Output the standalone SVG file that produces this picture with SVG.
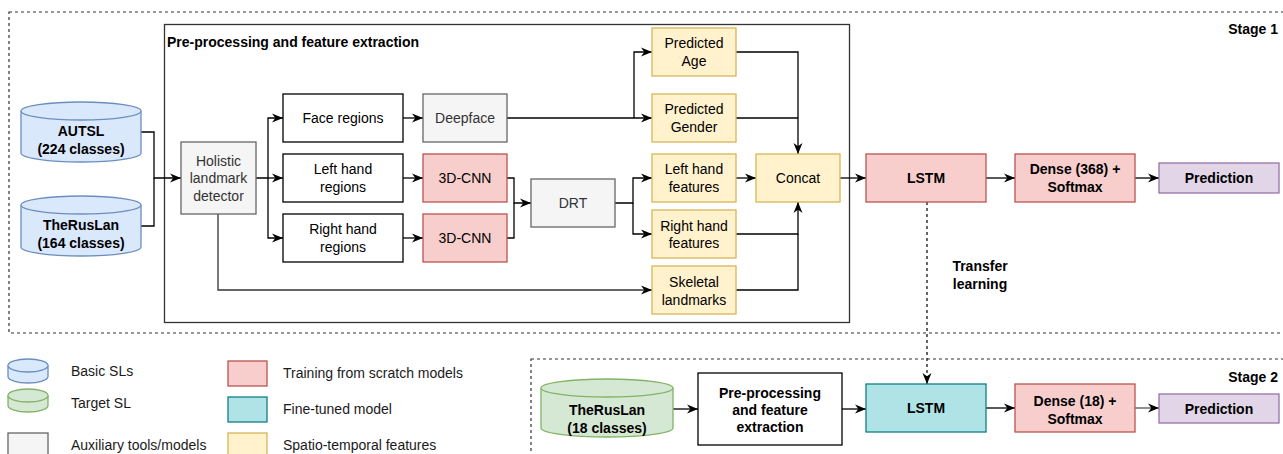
<svg xmlns="http://www.w3.org/2000/svg" width="1283" height="454" viewBox="0 0 1283 454">
  <style>
    text { font-family: "Liberation Sans", Arial, sans-serif; font-size: 14px; fill: #000; text-anchor: middle; }
    .b { font-weight: bold; }
    .l { text-anchor: start; fill: #1a1a1a; }
    .r { text-anchor: end; }
    .g { fill: #333; }
    .box { stroke-width: 1.3; }
    .plain { fill: #fff; stroke: #000; }
    .aux { fill: #f5f5f5; stroke: #666; }
    .red { fill: #f8cecc; stroke: #b85450; }
    .yel { fill: #fff2cc; stroke: #d6b656; }
    .pur { fill: #e1d5e7; stroke: #9673a6; }
    .teal { fill: #b0e3e6; stroke: #0e8088; }
    .blue { fill: #dae8fc; stroke: #6c8ebf; }
    .green { fill: #d5e8d4; stroke: #82b366; }
    .stage { fill: none; stroke: #333; stroke-width: 1.2; stroke-dasharray: 3 3; }
    .edge { fill: none; stroke: #000; stroke-width: 1.3; }
    .arr { marker-end: url(#ah); }
    .dash { stroke-dasharray: 3 3; }
  </style>
  <defs>
    <!-- classic notched arrowhead -->
    <marker id="ah" viewBox="0 0 11 10" refX="11" refY="5" markerWidth="11" markerHeight="10" markerUnits="userSpaceOnUse" orient="auto">
      <path d="M0,0.5 L11,5 L0,9.5 L3.3,5 Z" fill="#000"/>
    </marker>
  </defs>

  <!-- stage frames -->
  <g id="stage1">
    <rect class="stage" x="9" y="12" width="1300" height="321"/>
    <text class="b r" x="1278" y="34">Stage 1</text>
  </g>
  <g id="stage2">
    <rect class="stage" x="531" y="359" width="800" height="200"/>
    <text class="b r" x="1278" y="382">Stage 2</text>
  </g>

  <!-- feature extraction block -->
  <g id="preprocessing">
    <rect x="164.5" y="24.5" width="685" height="298" fill="none" stroke="#333" stroke-width="1.3"/>
    <text class="b l" x="167" y="47" style="fill:#000">Pre-processing and feature extraction</text>
  </g>

  <!-- connectors -->
  <g id="connectors">
    <path class="edge arr" d="M141,132 H154 V178 H181"/>
    <path class="edge" d="M141,226 H154 V178"/>
    <path class="edge arr" d="M256,178 H268 V118 H283"/>
    <path class="edge arr" d="M268,178 H283"/>
    <path class="edge arr" d="M268,178 V238 H283"/>
    <path class="edge arr" d="M403,118 H423"/>
    <path class="edge arr" d="M403,178 H423"/>
    <path class="edge arr" d="M403,238 H423"/>
    <path class="edge arr" d="M507,118 H652"/>
    <path class="edge arr" d="M634,118 V52 H652"/>
    <path class="edge arr" d="M507,178 H514 V203 H531"/>
    <path class="edge" d="M507,238 H514 V203"/>
    <path class="edge arr" d="M615,203 H633 V178 H652"/>
    <path class="edge arr" d="M633,203 V234 H652"/>
    <path class="edge arr" d="M736,52 H798 V154"/>
    <path class="edge" d="M736,118 H798"/>
    <path class="edge arr" d="M736,178 H756"/>
    <path class="edge arr" d="M736,234 H798 V202"/>
    <path class="edge" d="M736,290 H798 V234"/>
    <path class="edge arr" d="M218,214 V290 H652" style="stroke:#333"/>
    <path class="edge arr" d="M840,178 H866"/>
    <path class="edge arr" d="M986,178 H1015"/>
    <path class="edge arr" d="M1135,178 H1159"/>
    <path class="edge arr dash" d="M927,202 V384" style="stroke-width:1.2"/>
    <path class="edge arr" d="M673,409 H698"/>
    <path class="edge arr" d="M842,409 H866"/>
    <path class="edge arr" d="M986,408 H1015"/>
    <path class="edge arr" d="M1135,408 H1159" style="stroke:#555"/>
  </g>
  <text class="b" x="980" y="271">Transfer</text>
  <text class="b" x="980" y="289">learning</text>

  <!-- datasets -->
  <g id="autsl">
    <path class="box blue" d="M21,111 A60,9 0 0 1 141,111 V153 A60,9 0 0 1 21,153 Z"/>
    <path class="box blue" d="M21,111 A60,9 0 0 0 141,111" fill="none"/>
    <text class="b" x="81" y="136">AUTSL</text>
    <text class="b" x="81" y="154">(224 classes)</text>
  </g>
  <g id="therslan164">
    <path class="box blue" d="M21,205 A60,9 0 0 1 141,205 V247 A60,9 0 0 1 21,247 Z"/>
    <path class="box blue" d="M21,205 A60,9 0 0 0 141,205" fill="none"/>
    <text class="b" x="81" y="230">TheRusLan</text>
    <text class="b" x="81" y="248">(164 classes)</text>
  </g>

  <g id="holistic">
    <rect class="box aux" x="181" y="142" width="75" height="72"/>
    <text class="g" x="218.5" y="166">Holistic</text>
    <text class="g" x="218.5" y="183">landmark</text>
    <text class="g" x="218.5" y="201">detector</text>
  </g>

  <g id="face-regions">
    <rect class="box plain" x="283" y="94" width="120" height="48"/>
    <text x="343" y="123">Face regions</text>
  </g>
  <g id="left-regions">
    <rect class="box plain" x="283" y="154" width="120" height="48"/>
    <text x="343" y="174">Left hand</text>
    <text x="343" y="192">regions</text>
  </g>
  <g id="right-regions">
    <rect class="box plain" x="283" y="214" width="120" height="48"/>
    <text x="343" y="234">Right hand</text>
    <text x="343" y="252">regions</text>
  </g>

  <g id="deepface">
    <rect class="box aux" x="423" y="94" width="84" height="48"/>
    <text class="g" x="465" y="123">Deepface</text>
  </g>
  <g id="cnn-left">
    <rect class="box red" x="423" y="154" width="84" height="48"/>
    <text x="465" y="183">3D-CNN</text>
  </g>
  <g id="cnn-right">
    <rect class="box red" x="423" y="214" width="84" height="48"/>
    <text x="465" y="243">3D-CNN</text>
  </g>
  <g id="drt">
    <rect class="box aux" x="531" y="179" width="84" height="48"/>
    <text class="g" x="573" y="208">DRT</text>
  </g>

  <g id="age">
    <rect class="box yel" x="652" y="28" width="84" height="48"/>
    <text x="694" y="48">Predicted</text>
    <text x="694" y="66">Age</text>
  </g>
  <g id="gender">
    <rect class="box yel" x="652" y="94" width="84" height="48"/>
    <text x="694" y="114">Predicted</text>
    <text x="694" y="132">Gender</text>
  </g>
  <g id="left-features">
    <rect class="box yel" x="652" y="154" width="84" height="48"/>
    <text x="694" y="174">Left hand</text>
    <text x="694" y="192">features</text>
  </g>
  <g id="right-features">
    <rect class="box yel" x="652" y="210" width="84" height="48"/>
    <text x="694" y="231">Right hand</text>
    <text x="694" y="248">features</text>
  </g>
  <g id="skeletal">
    <rect class="box yel" x="652" y="266" width="84" height="48"/>
    <text x="694" y="287">Skeletal</text>
    <text x="694" y="305">landmarks</text>
  </g>
  <g id="concat">
    <rect class="box yel" x="756" y="154" width="84" height="48"/>
    <text x="798" y="183">Concat</text>
  </g>

  <g id="lstm1">
    <rect class="box red" x="866" y="154" width="120" height="48"/>
    <text class="b" x="926" y="183">LSTM</text>
  </g>
  <g id="dense1">
    <rect class="box red" x="1015" y="154" width="120" height="48"/>
    <text class="b" x="1075" y="174">Dense (368) +</text>
    <text class="b" x="1075" y="192">Softmax</text>
  </g>
  <g id="prediction1">
    <rect class="box pur" x="1159" y="163" width="120" height="30"/>
    <text class="b" x="1219" y="183">Prediction</text>
  </g>

  <!-- stage 2 -->
  <g id="therslan18">
    <path class="box green" d="M541,388 A66,9 0 0 1 673,388 V428 A66,9 0 0 1 541,428 Z"/>
    <path class="box green" d="M541,388 A66,9 0 0 0 673,388" fill="none"/>
    <text class="b" x="607" y="415">TheRusLan</text>
    <text class="b" x="607" y="433">(18 classes)</text>
  </g>
  <g id="preprocessing2">
    <rect class="box plain" x="698" y="373" width="144" height="72"/>
    <text class="b" x="770" y="398">Pre-processing</text>
    <text class="b" x="770" y="415">and feature</text>
    <text class="b" x="770" y="432">extraction</text>
  </g>
  <g id="lstm2">
    <rect class="box teal" x="866" y="384" width="120" height="48"/>
    <text class="b" x="926" y="413">LSTM</text>
  </g>
  <g id="dense2">
    <rect class="box red" x="1015" y="384" width="120" height="48"/>
    <text class="b" x="1075" y="406">Dense (18) +</text>
    <text class="b" x="1075" y="424">Softmax</text>
  </g>
  <g id="prediction2">
    <rect class="box pur" x="1159" y="394" width="120" height="29"/>
    <text class="b" x="1219" y="414">Prediction</text>
  </g>

  <!-- legend -->
  <g id="legend">
    <path class="box blue" d="M8,365.5 A20,6.5 0 0 1 48,365.5 V376.5 A20,6.5 0 0 1 8,376.5 Z"/>
    <path class="box blue" d="M8,365.5 A20,6.5 0 0 0 48,365.5" fill="none"/>
    <text class="l" x="71" y="376">Basic SLs</text>
    <path class="box green" d="M8,395.5 A20,6.5 0 0 1 48,395.5 V405.5 A20,6.5 0 0 1 8,405.5 Z"/>
    <path class="box green" d="M8,395.5 A20,6.5 0 0 0 48,395.5" fill="none"/>
    <text class="l" x="71" y="408">Target SL</text>
    <rect class="box aux" x="8" y="433" width="40" height="30"/>
    <text class="l" x="71" y="450">Auxiliary tools/models</text>
    <rect class="box red" x="228" y="361" width="39" height="25"/>
    <text class="l" x="283" y="378">Training from scratch models</text>
    <rect class="box teal" x="228" y="397" width="39" height="25"/>
    <text class="l" x="283" y="414">Fine-tuned model</text>
    <rect class="box yel" x="228" y="433" width="39" height="30"/>
    <text class="l" x="283" y="450">Spatio-temporal features</text>
  </g>
</svg>
